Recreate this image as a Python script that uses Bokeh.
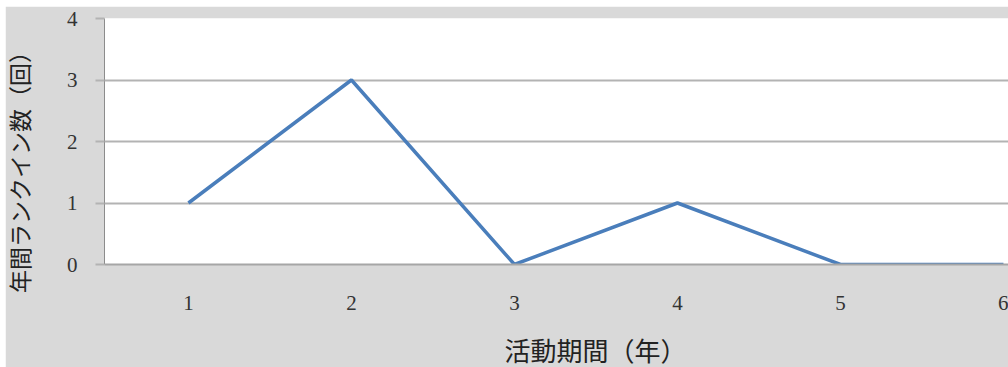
import math
from bokeh.plotting import figure
from bokeh.models import FixedTicker, Label, Range1d
from bokeh.embed import file_html
from bokeh.resources import INLINE

years = [1, 2, 3, 4, 5, 6]
counts = [1, 3, 0, 1, 0, 0]
y_ticks = [0, 1, 2, 3, 4]
x_title = "活動期間（年）"
y_title = "年間ランクイン数（回）"

p = figure(width=1003, height=361, output_backend="svg", toolbar_location=None,
           x_range=Range1d(0.485, 6.031), y_range=Range1d(0, 4),
           margin=(6, 0, 0, 5),
           min_border_left=99, min_border_right=0, min_border_top=12, min_border_bottom=103)
p.background_fill_color = "white"
p.border_fill_color = "#d9d9d9"
p.outline_line_color = None

p.line(years, counts, line_color="#4a7ebb", line_width=3.5)

p.xgrid.visible = False
p.ygrid.ticker = FixedTicker(ticks=y_ticks)
p.ygrid.grid_line_color = "#b3b3b3"
p.ygrid.grid_line_width = 2

p.yaxis.ticker = FixedTicker(ticks=y_ticks)
p.yaxis.axis_line_color = "#8c8c8c"
p.yaxis.major_tick_line_color = "#b3b3b3"
p.yaxis.major_tick_line_width = 2
p.yaxis.major_tick_out = 9
p.yaxis.major_tick_in = 0
p.yaxis.minor_tick_line_color = None
p.yaxis.major_label_standoff = 18
p.yaxis.major_label_text_font = "Liberation Serif"
p.yaxis.major_label_text_font_size = "21px"
p.yaxis.major_label_text_color = "#333333"

p.xaxis.ticker = FixedTicker(ticks=years)
p.xaxis.axis_line_color = "#a6a6a6"
p.xaxis.axis_line_width = 2
p.xaxis.major_tick_line_color = None
p.xaxis.minor_tick_line_color = None
p.xaxis.major_tick_out = 0
p.xaxis.major_tick_in = 0
p.xaxis.major_label_standoff = 31
p.xaxis.major_label_text_font = "Liberation Serif"
p.xaxis.major_label_text_font_size = "21px"
p.xaxis.major_label_text_color = "#333333"

p.add_layout(Label(x=-11, y=98, x_units="screen", y_units="screen", text=y_title,
                   angle=math.pi / 2, text_align="center", text_baseline="middle",
                   text_font="Noto Sans CJK JP", text_font_size="23px",
                   text_color="#222222"), "left")
p.add_layout(Label(x=491, y=0, x_units="screen", y_units="screen", text=x_title,
                   text_align="center", text_baseline="middle",
                   text_font="Noto Sans CJK JP", text_font_size="26px",
                   text_color="#222222"), "below")

open("out.html", "w").write(file_html(p, INLINE))
